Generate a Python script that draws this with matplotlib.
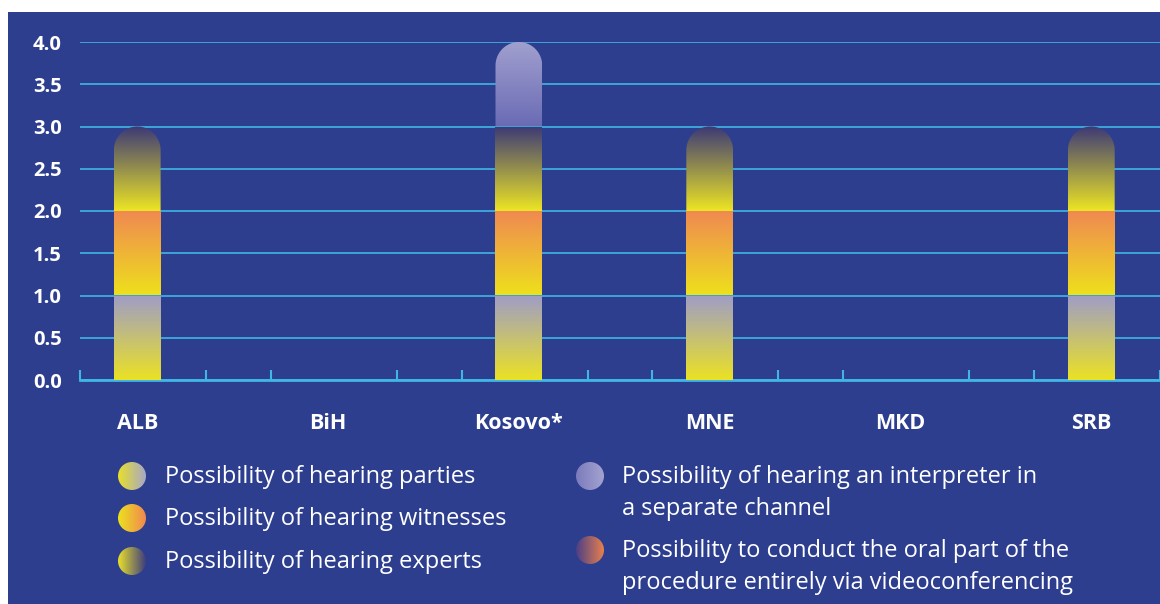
import numpy as np
import matplotlib
matplotlib.use("Agg")
import matplotlib.pyplot as plt
from matplotlib.colors import LinearSegmentedColormap
from matplotlib.path import Path
from matplotlib.patches import Rectangle, Circle

plt.rcParams['font.family'] = ['Open Sans', 'DejaVu Sans']

countries = ['ALB', 'BiH', 'Kosovo*', 'MNE', 'MKD', 'SRB']
parties = [1, 0, 1, 1, 0, 1]
witnesses = [1, 0, 1, 1, 0, 1]
experts = [1, 0, 1, 1, 0, 1]
interpreter = [0, 0, 1, 0, 0, 0]
video = [0, 0, 0, 0, 0, 0]

series = [parties, witnesses, experts, interpreter, video]
names = ['Possibility of hearing parties',
         'Possibility of hearing witnesses',
         'Possibility of hearing experts',
         'Possibility of hearing an interpreter in\na separate channel',
         'Possibility to conduct the oral part of the\nprocedure entirely via videoconferencing']
# (bottom colour, top colour) of each segment's vertical gradient
bar_grad = [('#ebe224', '#9f9dc8'),
            ('#eee01c', '#f08852'),
            ('#ede523', '#3c3977'),
            ('#6a6bb5', '#a2a0cf'),
            ('#4a3f85', '#e8804f')]
# (left colour, right colour) of legend circles
leg_grad = [('#e8e02a', '#a8a7c8'),
            ('#ece21e', '#f08850'),
            ('#e8e02a', '#3f3d7e'),
            ('#7b7bbd', '#a4a3d0'),
            ('#4a3f85', '#e8804f')]

bg = '#2d3e8f'
cyan = '#3fb6e6'

fig = plt.figure(figsize=(11.6, 6.04), dpi=100)
fig.patch.set_facecolor('white')
fig.add_artist(Rectangle((8 / 1160, 0), 1, 592 / 604, transform=fig.transFigure,
                         facecolor=bg, edgecolor='none', zorder=-10))

ax = fig.add_axes([80 / 1160, 224 / 604, 1080 / 1160, 338 / 604])
ax.set_facecolor('none')
x0, x1 = -0.30, 5.31

w = 0.245
px_x = 1080 / (x1 - x0)
px_y = 338 / 4
ry = (w / 2) * px_x / px_y

grad = np.linspace(0, 1, 256).reshape(-1, 1)
x = np.arange(len(countries))
for i in range(len(countries)):
    bottom = 0
    vals = [s[i] for s in series]
    top_k = max([k for k, v in enumerate(vals) if v > 0], default=-1)
    for k, v in enumerate(vals):
        if v <= 0:
            continue
        y0, y1 = bottom, bottom + v
        l, r = x[i] - w / 2, x[i] + w / 2
        if k == top_k:
            t = np.linspace(0, np.pi, 40)
            verts = [(l, y0), (r, y0)] + list(zip(x[i] + w / 2 * np.cos(t), y1 - ry + ry * np.sin(t))) + [(l, y0)]
        else:
            verts = [(l, y0), (r, y0), (r, y1), (l, y1), (l, y0)]
        clip = Path(verts)
        cmap = LinearSegmentedColormap.from_list('g', bar_grad[k])
        im = ax.imshow(grad, cmap=cmap, extent=(l, r, y0, y1), origin='lower',
                       aspect='auto', interpolation='bicubic', zorder=3)
        im.set_clip_path(clip, transform=ax.transData)
        bottom = y1

ax.set_xlim(x0, x1)
ax.set_ylim(0, 4)

ax.set_yticks(np.arange(0, 4.01, 0.5))
ax.set_yticklabels([f'{v:.1f}' for v in np.arange(0, 4.01, 0.5)])
ax.grid(axis='y', color=cyan, lw=1.2, zorder=0)
ax.set_axisbelow(True)
ax.tick_params(axis='y', length=0, pad=13, labelsize=14.5, labelcolor='white')
for lab in ax.get_yticklabels():
    lab.set_fontweight('bold')

ax.set_xticks(x)
ax.set_xticklabels(countries, fontweight='bold')
ax.tick_params(axis='x', length=0, pad=24, labelsize=15.5, labelcolor='white')
ax.set_xticks(list(np.arange(6) - 0.30) + list(np.arange(6) + 0.36), minor=True)
ax.tick_params(axis='x', which='minor', direction='in', length=7, width=1.5, color=cyan)

for s in ['top', 'right', 'left']:
    ax.spines[s].set_visible(False)
ax.spines['bottom'].set_color(cyan)
ax.spines['bottom'].set_linewidth(2)

# legend drawn in pixel coordinates
lax = fig.add_axes([0, 0, 1, 1])
lax.axis('off')
lax.set_facecolor('none')

hgrad = np.linspace(0, 1, 256).reshape(1, -1)
circ_pos = [(132, 476), (132, 518), (132, 561), (590, 476), (590, 550)]
text_x = [165, 165, 165, 622, 622]
rad = 14
for k in range(5):
    cx, cy = circ_pos[k]
    cmap = LinearSegmentedColormap.from_list('c', leg_grad[k])
    im = lax.imshow(hgrad, cmap=cmap, extent=(cx - rad, cx + rad, cy + rad, cy - rad),
                    aspect='auto', interpolation='bicubic')
    im.set_clip_path(Circle((cx, cy), rad, transform=lax.transData))
    for j, line in enumerate(names[k].split('\n')):
        lax.text(text_x[k], cy + 1 + j * 32, line, color='white', fontsize=17, va='center')
lax.set_xlim(0, 1160)
lax.set_ylim(604, 0)

fig.savefig('out.png', dpi=100, facecolor=fig.get_facecolor())
